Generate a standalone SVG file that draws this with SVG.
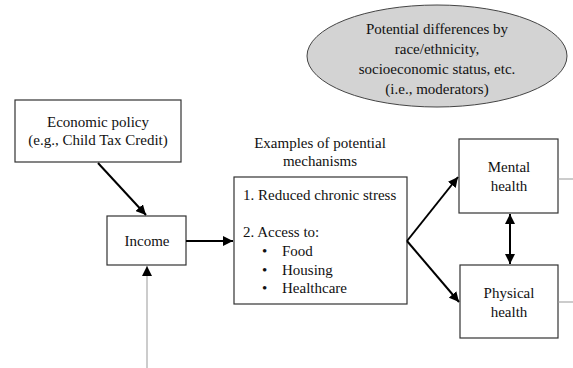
<svg xmlns="http://www.w3.org/2000/svg" width="573" height="368" viewBox="0 0 573 368">
<style>
.t{font-family:'Liberation Serif',serif;font-size:15px;fill:#111}
.box{fill:#fff;stroke:#333;stroke-width:1.2}
.c{text-anchor:middle}
.arr{stroke:#000;stroke-width:2;fill:none}
.gray{stroke:#999;stroke-width:1;fill:none}
</style>
<defs>
<marker id="ah" viewBox="0 0 10 10" refX="10" refY="5" markerWidth="5" markerHeight="5" orient="auto-start-reverse" markerUnits="strokeWidth"><path d="M0,0L10,5L0,10z" fill="#000"/></marker>
<marker id="ahg" viewBox="0 0 10 10" refX="10" refY="5" markerWidth="10" markerHeight="10" orient="auto" markerUnits="strokeWidth"><path d="M0,0L10,5L0,10z" fill="#000"/></marker>
</defs>
<rect width="573" height="368" fill="#fff"/>
<g class="t" font-family="Liberation Serif, serif">
<g id="moderators">
<ellipse cx="437" cy="56" rx="130" ry="51" fill="#d3d3d3" stroke="#444" stroke-width="1"/>
<text class="c" x="437" y="34">Potential differences by</text>
<text class="c" x="437" y="54">race/ethnicity,</text>
<text class="c" x="437" y="74">socioeconomic status, etc.</text>
<text class="c" x="437" y="94">(i.e., moderators)</text>
</g>
<g id="policy">
<rect class="box" x="15" y="100" width="166" height="62"/>
<text class="c" x="98" y="127">Economic policy</text>
<text class="c" x="98" y="145">(e.g., Child Tax Credit)</text>
</g>
<g id="income">
<rect class="box" x="107" y="216" width="79" height="49"/>
<text class="c" x="147" y="246">Income</text>
</g>
<g id="mechanisms-label">
<text class="c" x="320" y="148">Examples of potential</text>
<text class="c" x="320" y="166">mechanisms</text>
</g>
<g id="mechanisms">
<rect class="box" x="234" y="177" width="173" height="127"/>
<text x="243" y="200">1. Reduced chronic stress</text>
<text x="243" y="237">2. Access to:</text>
<text x="262" y="256">•</text><text x="282" y="256">Food</text>
<text x="262" y="275">•</text><text x="282" y="275">Housing</text>
<text x="262" y="293">•</text><text x="282" y="293">Healthcare</text>
</g>
<g id="mental">
<rect class="box" x="459" y="139" width="99" height="74"/>
<text class="c" x="509" y="172">Mental</text>
<text class="c" x="509" y="191">health</text>
</g>
<g id="physical">
<rect class="box" x="460" y="265" width="98" height="73"/>
<text class="c" x="509" y="298">Physical</text>
<text class="c" x="509" y="317">health</text>
</g>
</g>
<g id="connectors">
<line class="arr" x1="98" y1="163" x2="146" y2="215" marker-end="url(#ah)"/>
<line class="arr" x1="186" y1="241" x2="233" y2="241" marker-end="url(#ah)"/>
<line class="arr" x1="407" y1="241" x2="458" y2="177" marker-end="url(#ah)"/>
<line class="arr" x1="407" y1="241" x2="459" y2="302" marker-end="url(#ah)"/>
<line class="arr" x1="510" y1="214" x2="510" y2="264" marker-start="url(#ah)" marker-end="url(#ah)"/>
<line class="gray" x1="147" y1="368" x2="147" y2="266" marker-end="url(#ahg)"/>
<line class="gray" x1="558" y1="179" x2="573" y2="179"/>
<line class="gray" x1="558" y1="302" x2="573" y2="302"/>
</g>
</svg>
